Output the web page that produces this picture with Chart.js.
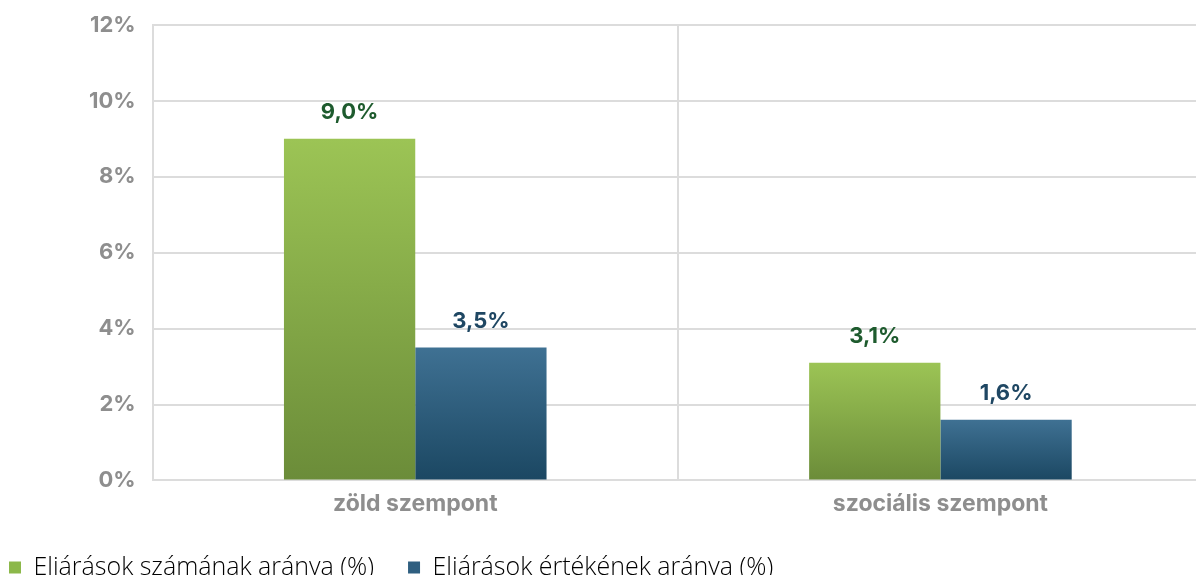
<!DOCTYPE html>
<html><head><meta charset="utf-8">
<script src="https://cdn.jsdelivr.net/npm/chart.js@4.4.1/dist/chart.umd.min.js"></script>
<style>html,body{margin:0;padding:0;background:#fff;overflow:hidden;}#wrap{width:1196px;height:582px;overflow:hidden;}</style>
</head><body><div id="wrap"><canvas id="c" width="1203" height="582"></canvas></div>
<script>
const categories = ['zöld szempont', 'szociális szempont'];
const seriesNames = ['Eljárások számának aránya (%)', 'Eljárások értékének aránya (%)'];
const countShare = [9.0, 3.1];
const valueShare = [3.5, 1.6];
const yTicks = [0, 2, 4, 6, 8, 10, 12];

const gradStops = [['#9cc455', '#6b8c39'], ['#3f7193', '#1b4762']];
const labelColors = ['#1e5b2e', '#1f4763'];
const legendColors = ['#8cb84a', '#2f5f80'];
const FONT = 'Inter, "DejaVu Sans", sans-serif';

function barGradient(ctx, dsIndex) {
  const chart = ctx.chart;
  const area = chart.chartArea;
  if (!area) return gradStops[dsIndex][0];
  if (ctx.type !== 'data') return legendColors[dsIndex];
  const yScale = chart.scales.y;
  const top = yScale.getPixelForValue(ctx.raw);
  const bottom = yScale.getPixelForValue(0);
  const g = chart.ctx.createLinearGradient(0, top, 0, bottom);
  g.addColorStop(0, gradStops[dsIndex][0]);
  g.addColorStop(1, gradStops[dsIndex][1]);
  return g;
}

const labelPlugin = {
  id: 'valueLabels',
  afterDatasetsDraw(chart) {
    const ctx = chart.ctx;
    ctx.save();
    ctx.font = 'bold 22px ' + FONT;
    ctx.textAlign = 'center';
    ctx.textBaseline = 'middle';
    chart.data.datasets.forEach((ds, i) => {
      const meta = chart.getDatasetMeta(i);
      meta.data.forEach((bar, j) => {
        const v = ds.data[j];
        ctx.fillStyle = labelColors[i];
        ctx.fillText(v.toFixed(1).replace('.', ',') + '%', bar.x, bar.y - 26);
      });
    });
    ctx.restore();
  }
};

const LEGEND_PAD = 34;
const legendTweak = {
  id: 'legendTweak',
  beforeInit(chart) {
    const lg = chart.legend;
    if (!lg) return;
    const origFit = lg.fit.bind(lg);
    lg.fit = function () { origFit(); this.height = 54; };
    const origDraw = lg.draw.bind(lg);
    lg.draw = function () {
      const c = chart.ctx;
      c.save();
      c.translate(0, -7);
      origDraw();
      c.restore();
    };
  },
  afterLayout(chart) {
    const lg = chart.legend;
    if (!lg) return;
    const w = lg.right - lg.left;
    lg.left = 9 - LEGEND_PAD; lg.right = lg.left + w;
  }
};

new Chart(document.getElementById('c'), {
  type: 'bar',
  data: {
    labels: categories,
    datasets: [
      { label: seriesNames[0], data: countShare, backgroundColor: (c) => barGradient(c, 0) },
      { label: seriesNames[1], data: valueShare, backgroundColor: (c) => barGradient(c, 1) }
    ]
  },
  options: {
    responsive: false,
    animation: false,
    devicePixelRatio: 1,
    categoryPercentage: 0.5,
    barPercentage: 1.0,
    layout: { padding: { left: 72, right: 0, top: 25, bottom: 0 } },
    scales: {
      x: {
        grid: { color: '#dcdcdc', lineWidth: 2, drawTicks: false, offset: true },
        border: { color: '#dcdcdc', width: 2 },
        ticks: { color: '#8e8e8e', font: { family: FONT, size: 23, weight: 'bold' }, padding: 10 }
      },
      y: {
        min: 0, max: 12,
        afterBuildTicks: (s) => { s.ticks = yTicks.map(v => ({ value: v })); },
        afterFit: (s) => { s.paddingTop = 0; s.paddingBottom = 0; },
        grid: { color: '#dcdcdc', lineWidth: 2, drawTicks: false },
        border: { display: true, color: '#dcdcdc', width: 2 },
        ticks: { color: '#8e8e8e', font: { family: FONT, size: 22, weight: 'bold' }, padding: 17, callback: (v) => v + '%' }
      }
    },
    plugins: {
      legend: {
        position: 'bottom',
        align: 'start',
        labels: {
          boxWidth: 12, boxHeight: 12, padding: LEGEND_PAD,
          color: '#a9a9a9',
          font: { family: '"Open Sans", sans-serif', size: 25, weight: 300 },
          generateLabels: (chart) => chart.data.datasets.map((ds, i) => ({
            text: ds.label, fillStyle: legendColors[i], strokeStyle: legendColors[i], lineWidth: 0, datasetIndex: i, hidden: false
          }))
        }
      },
      tooltip: { enabled: false }
    }
  },
  plugins: [labelPlugin, legendTweak]
});
</script></body></html>
